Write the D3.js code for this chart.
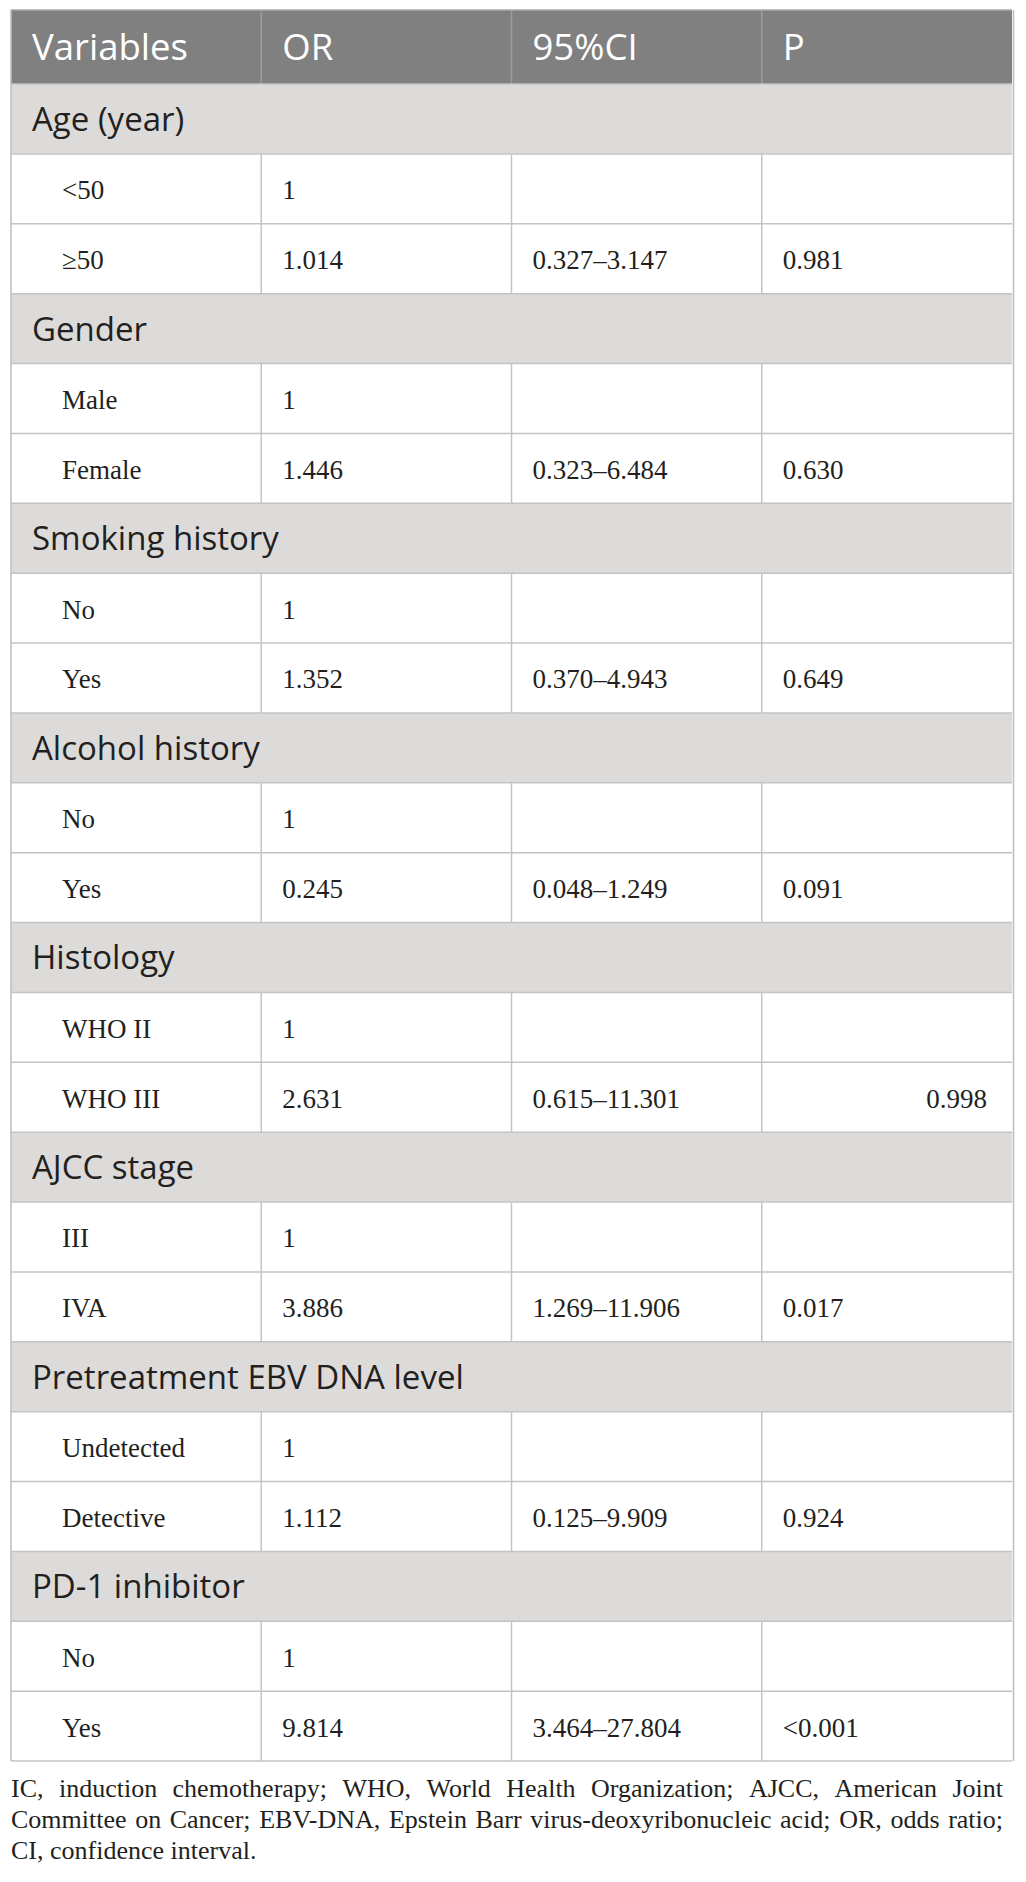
<!DOCTYPE html>
<html>
<head>
<meta charset="utf-8">
<script src="https://cdn.jsdelivr.net/npm/d3@7"></script>
<style>
  body { margin: 0; background: #fff; }
  .head { font-family: 'Open Sans', sans-serif; fill: #fff; font-size: 36.5px; }
  .group { font-family: 'Open Sans', sans-serif; fill: #231f20; font-size: 33px; }
  .cell { font-family: 'Liberation Serif', 'Times New Roman', serif; fill: #231f20; font-size: 27px; }
  .note { font-family: 'Liberation Serif', 'Times New Roman', serif; fill: #231f20; font-size: 26px; }
</style>
</head>
<body>
<div id="chart"></div>
<script>
var width = 1026;
var height = 1882;

// table content
var columns = ['Variables', 'OR', '95%CI', 'P'];
var groups = ['Age (year)', 'Gender', 'Smoking history', 'Alcohol history', 'Histology', 'AJCC stage', 'Pretreatment EBV DNA level', 'PD-1 inhibitor'];
var refLevels = ['<50', 'Male', 'No', 'No', 'WHO II', 'III', 'Undetected', 'No'];
var cmpLevels = ['≥50', 'Female', 'Yes', 'Yes', 'WHO III', 'IVA', 'Detective', 'Yes'];
var orValues = [1.014, 1.446, 1.352, 0.245, 2.631, 3.886, 1.112, 9.814];
var ciLow = [0.327, 0.323, 0.370, 0.048, 0.615, 1.269, 0.125, 3.464];
var ciHigh = [3.147, 6.484, 4.943, 1.249, 11.301, 11.906, 9.909, 27.804];
var pValues = ['0.981', '0.630', '0.649', '0.091', '0.998', '0.017', '0.924', '<0.001'];
var pRightAligned = ['Histology'];
var notes = [
  'IC, induction chemotherapy; WHO, World Health Organization; AJCC, American Joint',
  'Committee on Cancer; EBV-DNA, Epstein Barr virus-deoxyribonucleic acid; OR, odds ratio;',
  'CI, confidence interval.'
];

var fmt = d3.format('.3f');

// flatten into rows: group row, reference row, comparison row
var rows = [];
groups.forEach(function (g, i) {
  rows.push({ type: 'group', label: g });
  rows.push({ type: 'data', label: refLevels[i], or: '1', ci: '', p: '' });
  rows.push({
    type: 'data',
    label: cmpLevels[i],
    or: fmt(orValues[i]),
    ci: fmt(ciLow[i]) + '\u2013' + fmt(ciHigh[i]),
    p: pValues[i],
    pRight: pRightAligned.indexOf(g) >= 0
  });
});

var tLeft = 11, tRight = 1012, tTop = 10, headBottom = 84, tableBottom = 1761;
var padX = 21;

var x = d3.scaleBand().domain(columns).range([tLeft, tRight]).padding(0);
var y = d3.scaleBand().domain(d3.range(rows.length)).range([headBottom, tableBottom]).padding(0);

var svg = d3.select('#chart').append('svg')
  .attr('width', width)
  .attr('height', height);

// header
svg.append('rect')
  .attr('x', tLeft).attr('y', tTop)
  .attr('width', tRight - tLeft).attr('height', headBottom - tTop)
  .attr('fill', '#808080');

svg.selectAll('.head-sep')
  .data(columns.slice(1))
  .enter()
  .append('line')
  .attr('x1', d => x(d)).attr('x2', d => x(d))
  .attr('y1', tTop).attr('y2', headBottom)
  .attr('stroke', '#9c9c9c')
  .attr('stroke-width', 1.5);

svg.selectAll('.head')
  .data(columns)
  .enter()
  .append('text')
  .attr('class', 'head')
  .attr('x', (d, i) => i === 0 ? tLeft + padX : x(d) + padX)
  .attr('y', (tTop + headBottom) / 2 + 13)
  .text(d => d);

// group rows background
var rowG = svg.append('g');
rowG.selectAll('.grp-bg')
  .data(rows.map((r, i) => ({ r: r, i: i })).filter(d => d.r.type === 'group'))
  .enter()
  .append('rect')
  .attr('x', tLeft).attr('y', d => y(d.i))
  .attr('width', tRight - tLeft).attr('height', y.bandwidth())
  .attr('fill', '#dcdbda');

// horizontal lines
rowG.selectAll('.hline')
  .data(d3.range(rows.length + 1))
  .enter()
  .append('line')
  .attr('x1', tLeft).attr('x2', tRight)
  .attr('y1', d => d < rows.length ? y(d) : tableBottom)
  .attr('y2', d => d < rows.length ? y(d) : tableBottom)
  .attr('stroke', '#c4c4c4')
  .attr('stroke-width', 1.5);

// vertical lines in data rows
rows.forEach(function (r, i) {
  if (r.type !== 'data') return;
  rowG.selectAll(null)
    .data(columns.slice(1))
    .enter()
    .append('line')
    .attr('x1', d => x(d)).attr('x2', d => x(d))
    .attr('y1', y(i)).attr('y2', y(i) + y.bandwidth())
    .attr('stroke', '#c4c4c4')
    .attr('stroke-width', 1.5);
});

// outer left/right borders
[tLeft, tRight + 1.5].forEach(function (bx) {
  svg.append('line')
    .attr('x1', bx).attr('x2', bx)
    .attr('y1', tTop).attr('y2', tableBottom)
    .attr('stroke', '#bdbdbd')
    .attr('stroke-width', 1.5);
});
svg.append('line')
  .attr('x1', tLeft).attr('x2', tRight)
  .attr('y1', tTop).attr('y2', tTop)
  .attr('stroke', '#a8a8a8')
  .attr('stroke-width', 1.5);

// row texts
rows.forEach(function (r, i) {
  var cy = y(i) + y.bandwidth() / 2;
  if (r.type === 'group') {
    rowG.append('text')
      .attr('class', 'group')
      .attr('x', tLeft + padX)
      .attr('y', cy + 12)
      .text(r.label);
    return;
  }
  var cells = [r.label, r.or, r.ci, r.p];
  cells.forEach(function (c, j) {
    if (!c) return;
    var t = rowG.append('text')
      .attr('class', 'cell')
      .attr('y', cy + 10.5)
      .text(c);
    if (j === 0) {
      t.attr('x', tLeft + 51);
    } else if (j === 3 && r.pRight) {
      t.attr('x', tRight - 25).attr('text-anchor', 'end');
    } else {
      t.attr('x', x(columns[j]) + padX);
    }
  });
});

// footnote, justified like the source
var noteG = svg.append('g');
var noteLeft = 11, noteRight = 1003;
notes.forEach(function (line, li) {
  var words = line.split(' ');
  var by = 1797 + li * 31;
  var ts = noteG.selectAll(null)
    .data(words)
    .enter()
    .append('text')
    .attr('class', 'note')
    .attr('y', by)
    .text(d => d);
  var widths = [];
  ts.each(function () { widths.push(this.getComputedTextLength()); });
  var total = d3.sum(widths);
  var gap = li === notes.length - 1 ? 6.5 : (noteRight - noteLeft - total) / (words.length - 1);
  gap = Math.max(gap, 4);
  var cx = noteLeft;
  ts.each(function (d, k) {
    d3.select(this).attr('x', cx);
    cx += widths[k] + gap;
  });
});
</script>
</body>
</html>
